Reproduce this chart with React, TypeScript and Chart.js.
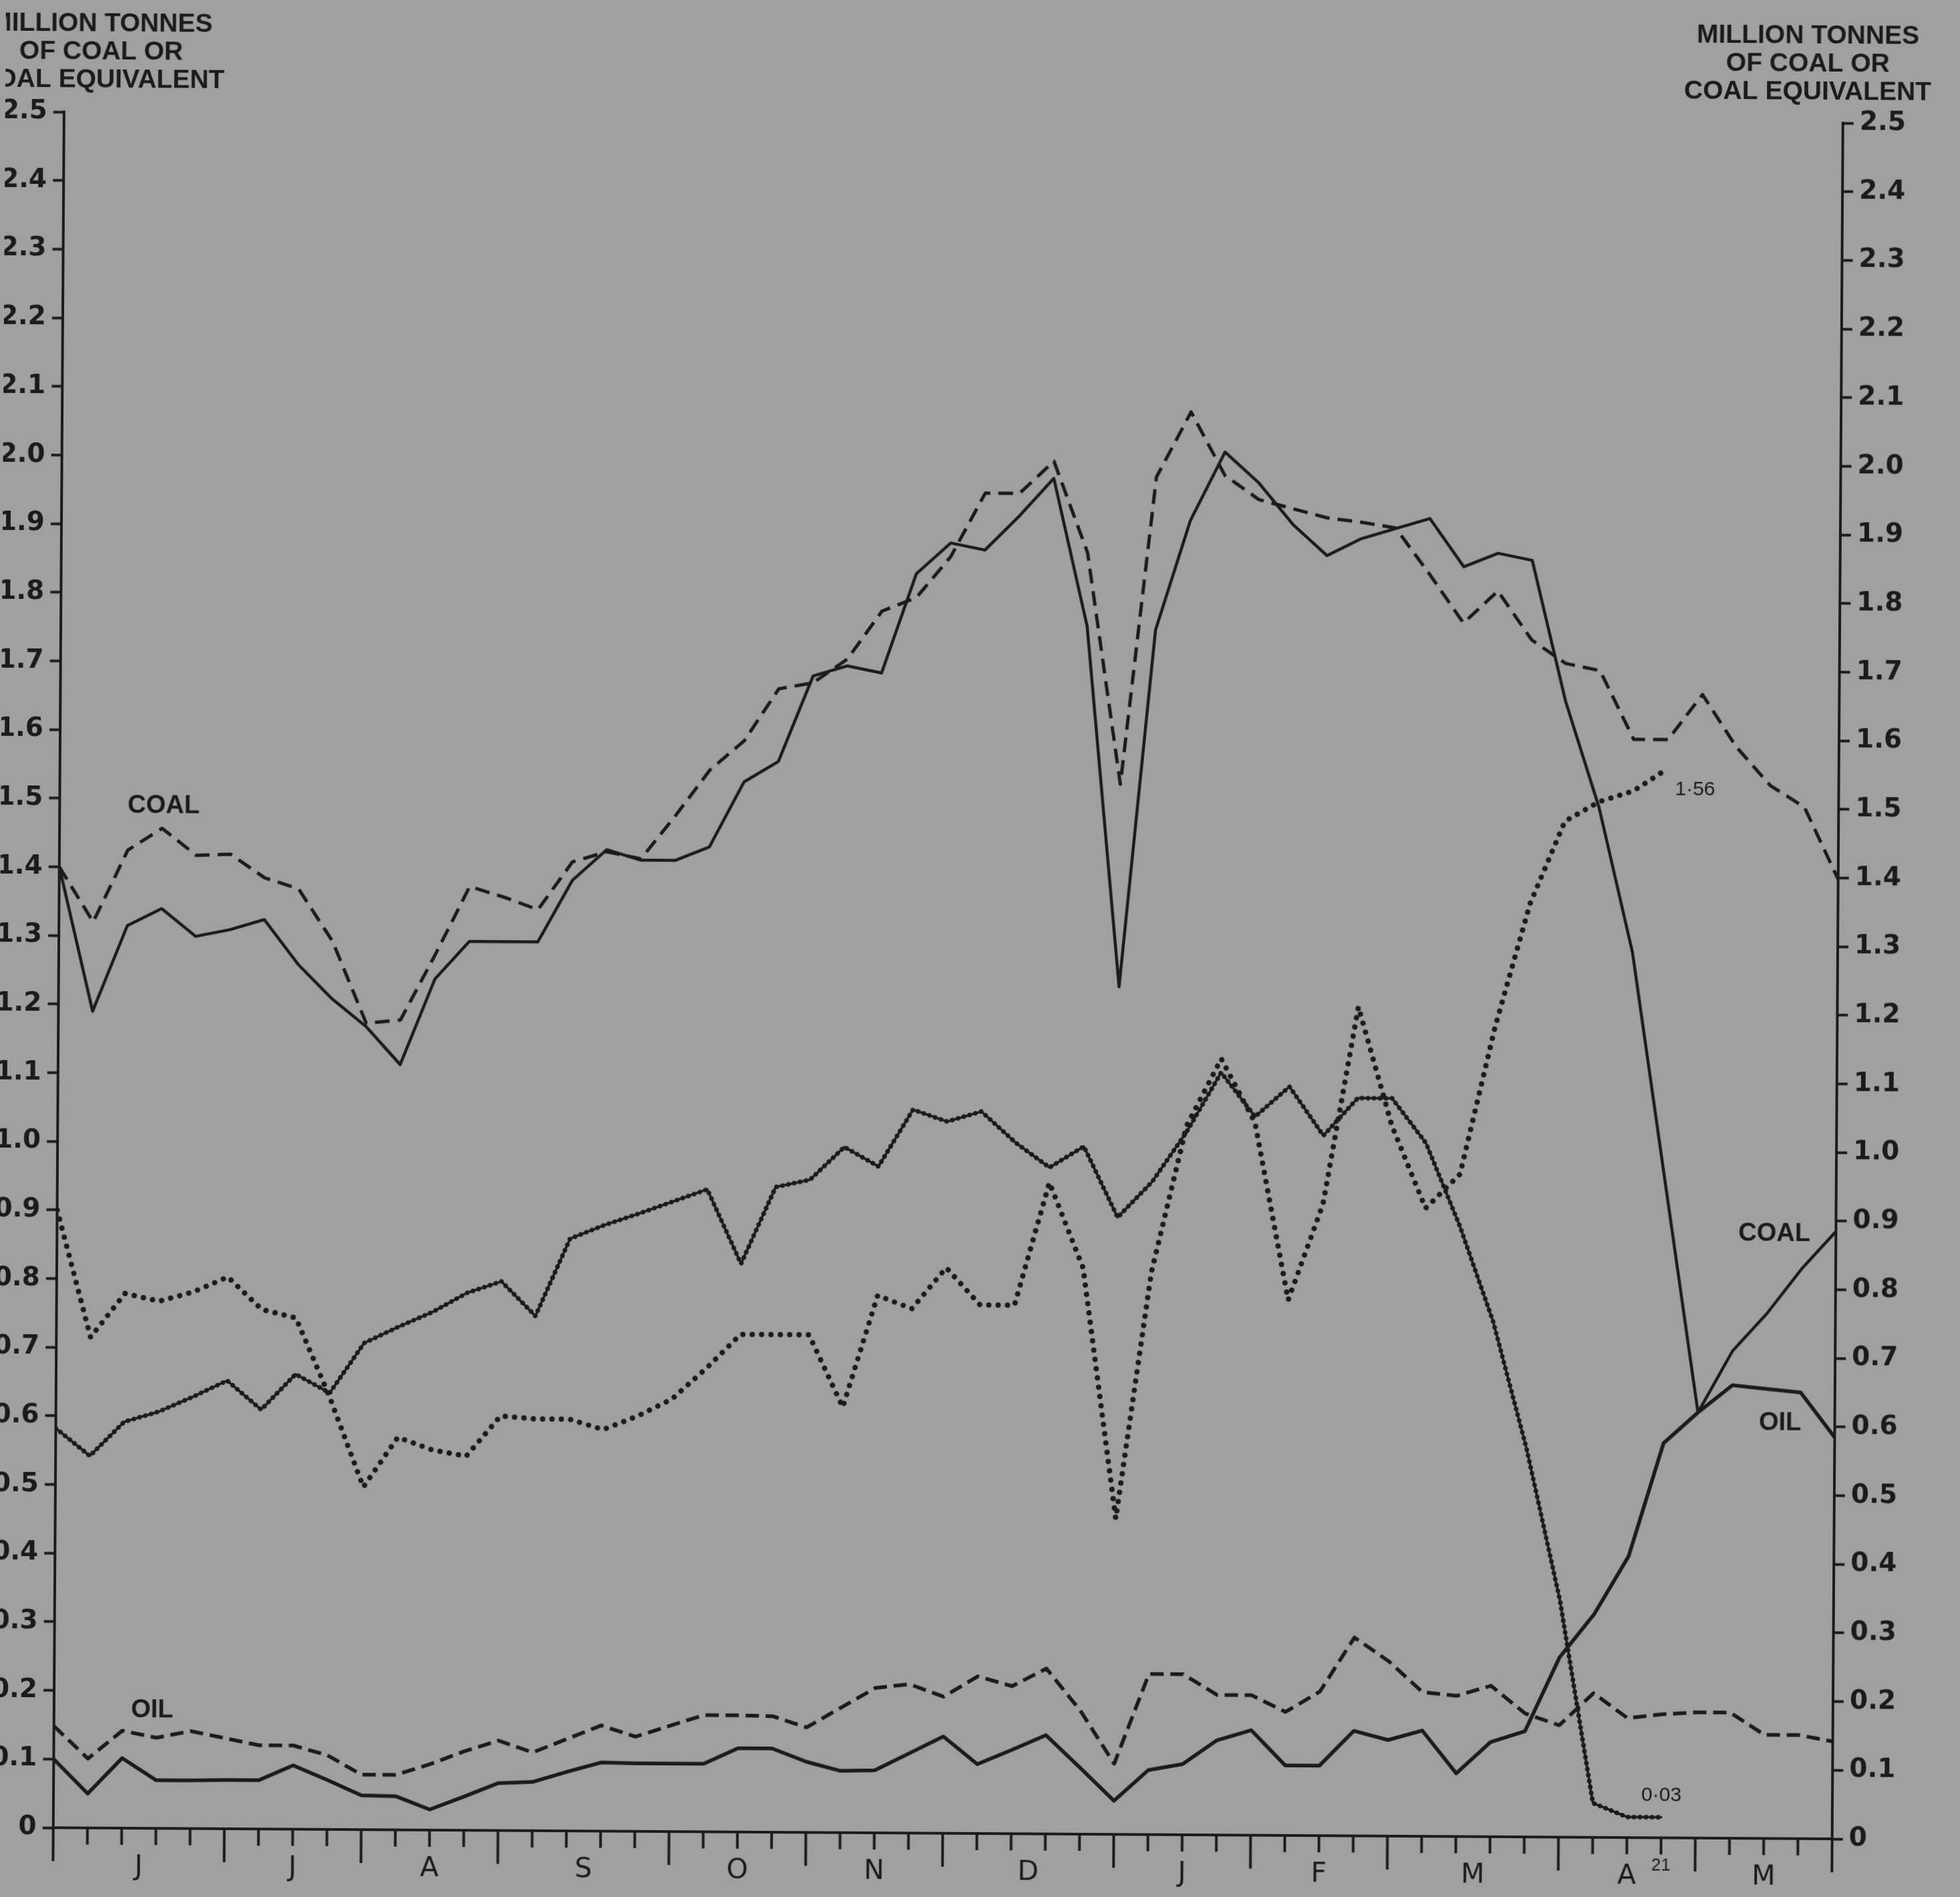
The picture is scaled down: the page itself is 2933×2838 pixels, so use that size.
import React, { useEffect, useRef } from 'react';
import { Chart, registerables } from 'chart.js';

Chart.register(...registerables);

// ---------- data (weekly values, million tonnes) ----------
const WEEK_COUNT = 52;
const MONTH_BOUNDARIES = [0, 5, 9, 13, 18, 22, 26, 31, 35, 39, 44, 48, 52];
const MONTH_LABELS = ['J', 'J', 'A', 'S', 'O', 'N', 'D', 'J', 'F', 'M', 'A', 'M'];

// solid lines
const COAL_SOLID = [
  1.40, 1.19, 1.315, 1.34, 1.30, 1.31, 1.325, 1.26, 1.21, 1.17,
  1.115, 1.24, 1.295, 1.295, 1.295, 1.385, 1.43, 1.415, 1.415, 1.435,
  1.53, 1.56, 1.685, 1.70, 1.69, 1.835, 1.88, 1.87, 1.92, 1.975,
  1.76, 1.235, 1.755, 1.915, 2.015, 1.97, 1.91, 1.865, 1.89, 1.905,
  1.92, 1.85, 1.87, 1.86, 1.655, 1.50, 1.29, 0.955, 0.62, 0.71,
  0.765, 0.83, 0.885,
];
const OIL_SOLID = [
  0.10, 0.05, 0.102, 0.07, 0.07, 0.071, 0.071, 0.093, 0.072, 0.05,
  0.049, 0.03, 0.049, 0.069, 0.071, 0.086, 0.10, 0.099, 0.099, 0.099,
  0.122, 0.122, 0.103, 0.09, 0.091, 0.116, 0.141, 0.101, 0.122, 0.144,
  0.097, 0.049, 0.094, 0.103, 0.138, 0.153, 0.102, 0.102, 0.153, 0.14,
  0.154, 0.092, 0.138, 0.154, 0.262, 0.325, 0.41, 0.575, 0.62, 0.66,
  0.655, 0.65, 0.585,
];
// dashed lines
const COAL_DASHED = [
  1.40, 1.32, 1.425, 1.457, 1.418, 1.42, 1.386, 1.37, 1.294, 1.175,
  1.18, 1.275, 1.375, 1.36, 1.342, 1.412, 1.427, 1.417, 1.48, 1.547,
  1.59, 1.666, 1.675, 1.71, 1.78, 1.80, 1.86, 1.953, 1.953, 2.0,
  1.867, 1.53, 1.978, 2.073, 1.981, 1.946, 1.933, 1.92, 1.914, 1.906,
  1.839, 1.768, 1.815, 1.744, 1.71, 1.70, 1.60, 1.60, 1.666, 1.59,
  1.534, 1.503, 1.398,
];
const OIL_DASHED = [
  0.148, 0.101, 0.142, 0.132, 0.142, 0.132, 0.122, 0.122, 0.108, 0.08,
  0.08, 0.096, 0.115, 0.131, 0.114, 0.134, 0.154, 0.138, 0.154, 0.17,
  0.17, 0.169, 0.153, 0.182, 0.211, 0.217, 0.199, 0.229, 0.215, 0.241,
  0.18, 0.103, 0.234, 0.234, 0.204, 0.204, 0.18, 0.21, 0.289, 0.255,
  0.21, 0.205, 0.22, 0.18, 0.163, 0.21, 0.174, 0.18, 0.183, 0.183,
  0.151, 0.151, 0.142,
];
// dotted (coal) and beaded (oil) lines, weeks 0-47
const COAL_DOTTED = [
  0.90, 0.715, 0.779, 0.768, 0.782, 0.804, 0.757, 0.745, 0.63, 0.499,
  0.572, 0.554, 0.545, 0.604, 0.60, 0.60, 0.585, 0.605, 0.63, 0.675,
  0.725, 0.725, 0.725, 0.62, 0.783, 0.764, 0.824, 0.77, 0.77, 0.949,
  0.825, 0.46, 0.82, 1.033, 1.131, 1.038, 0.78, 0.92, 1.208, 1.035,
  0.915, 0.965, 1.18, 1.36, 1.48, 1.509, 1.525, 1.558,
];
const OIL_BEADED = [
  0.582, 0.542, 0.592, 0.607, 0.629, 0.653, 0.611, 0.663, 0.636, 0.709,
  0.733, 0.755, 0.783, 0.80, 0.75, 0.863, 0.883, 0.90, 0.918, 0.936,
  0.828, 0.94, 0.951, 0.999, 0.971, 1.054, 1.037, 1.052, 1.007, 0.971,
  1.002, 0.899, 0.951, 1.024, 1.111, 1.047, 1.091, 1.02, 1.075, 1.075,
  1.01, 0.89, 0.75, 0.565, 0.345, 0.05, 0.03, 0.03,
];

const TITLE_LINES = ['MILLION TONNES', 'OF COAL OR', 'COAL EQUIVALENT'];
const SERIES_LABELS = [
  { text: 'COAL', week: 3.04, value: 1.49 },
  { text: 'OIL', week: 2.87, value: 0.172 },
  { text: 'COAL', week: 50.2, value: 0.881 },
  { text: 'OIL', week: 50.4, value: 0.605 },
];
const END_LABELS = [
  { text: '1·56', week: 47.8, value: 1.527 },
  { text: '0·03', week: 47.0, value: 0.062 },
];
const DATE_MARK = { text: '21', week: 47 };

// ---------- style ----------
const INK = '#1b1b1b';
const PAPER = '#a0a0a0';
const FONT = '"Liberation Sans", Arial, sans-serif';
const WIDE_FONT = '"DejaVu Sans", "Liberation Sans", sans-serif';
const W = 2933;
const H = 2838;

const toPoints = (arr: number[]) => arr.map((y, x) => ({ x, y }));

const decorPlugin = {
  id: 'decor',
  afterDraw(chart: any) {
    const ctx = chart.ctx as CanvasRenderingContext2D;
    const xs = chart.scales.x;
    const ys = chart.scales.y;
    const base = chart.chartArea.bottom;
    ctx.save();
    ctx.strokeStyle = INK;
    ctx.fillStyle = INK;
    ctx.lineWidth = 4;
    ctx.lineCap = 'butt';
    for (let w = 0; w <= WEEK_COUNT; w++) {
      const px = xs.getPixelForValue(w);
      const len = MONTH_BOUNDARIES.includes(w) ? 50 : 25;
      ctx.beginPath();
      ctx.moveTo(px, base);
      ctx.lineTo(px, base + len);
      ctx.stroke();
    }
    ctx.textAlign = 'center';
    ctx.textBaseline = 'middle';
    ctx.font = `41px ${WIDE_FONT}`;
    MONTH_LABELS.forEach((m, i) => {
      const c = (MONTH_BOUNDARIES[i] + MONTH_BOUNDARIES[i + 1]) / 2;
      ctx.fillText(m, xs.getPixelForValue(c), base + 58);
    });
    ctx.font = `26px ${FONT}`;
    ctx.fillText(DATE_MARK.text, xs.getPixelForValue(DATE_MARK.week), base + 42);

    // titles
    ctx.font = `bold 39px ${FONT}`;
    TITLE_LINES.forEach((t, i) => {
      ctx.fillText(t, 143, 44 + i * 42);
      ctx.fillText(t, 2697, 46 + i * 42);
    });

    // series labels
    ctx.font = `bold 38px ${FONT}`;
    SERIES_LABELS.forEach((l) => {
      ctx.fillText(l.text, xs.getPixelForValue(l.week), ys.getPixelForValue(l.value));
    });
    ctx.font = `30px ${FONT}`;
    END_LABELS.forEach((l) => {
      ctx.fillText(l.text, xs.getPixelForValue(l.week), ys.getPixelForValue(l.value));
    });
    ctx.restore();
  },
};

const yTickLabel = (v: number | string) => {
  const n = Number(v);
  return Math.abs(n) < 1e-9 ? '0' : n.toFixed(1);
};

export default function App() {
  const canvasRef = useRef<HTMLCanvasElement | null>(null);

  useEffect(() => {
    const canvas = canvasRef.current;
    if (!canvas) return;
    const common = {
      pointRadius: 0,
      tension: 0,
      fill: false,
      borderColor: INK,
      borderJoinStyle: 'round' as const,
    };
    const yAxis = (position: 'left' | 'right', width: number) => ({
      type: 'linear' as const,
      position,
      min: 0,
      max: 2.5,
      ticks: {
        stepSize: 0.1,
        callback: yTickLabel,
        color: INK,
        padding: 9,
        font: { family: WIDE_FONT, size: 39, weight: 'bold' as const },
      },
      grid: {
        drawOnChartArea: false,
        drawTicks: true,
        tickLength: 16,
        tickColor: INK,
        tickWidth: 4,
      },
      border: { display: true, color: INK, width: 4 },
      afterFit: (s: any) => {
        s.width = width;
      },
    });

    const chart = new Chart(canvas, {
      type: 'line',
      data: {
        datasets: [
          { ...common, label: 'Coal (solid)', data: toPoints(COAL_SOLID), borderWidth: 4.5, borderCapStyle: 'round' },
          { ...common, label: 'Oil (solid)', data: toPoints(OIL_SOLID), borderWidth: 5.5, borderCapStyle: 'round' },
          { ...common, label: 'Coal (dashed)', data: toPoints(COAL_DASHED), borderWidth: 5, borderDash: [22, 12] },
          { ...common, label: 'Oil (dashed)', data: toPoints(OIL_DASHED), borderWidth: 5.5, borderDash: [20, 10] },
          { ...common, label: 'Coal (dotted)', data: toPoints(COAL_DOTTED), borderWidth: 8, borderDash: [0.01, 14], borderCapStyle: 'round' },
          { ...common, label: 'Oil (beaded line)', data: toPoints(OIL_BEADED), borderWidth: 3.5, borderCapStyle: 'round' },
          { ...common, label: 'Oil (beads)', data: toPoints(OIL_BEADED), borderWidth: 7, borderDash: [0.01, 9], borderCapStyle: 'round' },
        ],
      },
      options: {
        responsive: false,
        animation: false,
        devicePixelRatio: 1,
        layout: { padding: { left: 0, right: 0, top: 176, bottom: 0 } },
        plugins: { legend: { display: false }, tooltip: { enabled: false }, title: { display: false } },
        scales: {
          x: {
            type: 'linear',
            min: 0,
            max: WEEK_COUNT,
            grid: { display: false, drawTicks: false },
            ticks: { display: false },
            border: { display: true, color: INK, width: 4 },
            afterFit: (s: any) => {
              s.height = 95;
            },
          },
          y: yAxis('left', 88),
          y2: yAxis('right', 183),
        },
      },
      plugins: [decorPlugin],
    } as any);
    return () => chart.destroy();
  }, []);

  return (
    <div style={{ position: 'fixed', left: 0, top: 0, width: W, height: H, background: PAPER, overflow: 'hidden' }}>
      <div style={{ position: 'absolute', left: 0, top: 0, width: W, height: H, transform: 'rotate(0.36deg)', transformOrigin: '50% 50%' }}>
        <canvas ref={canvasRef} width={W} height={H} style={{ display: 'block', width: W, height: H }} />
      </div>
    </div>
  );
}
